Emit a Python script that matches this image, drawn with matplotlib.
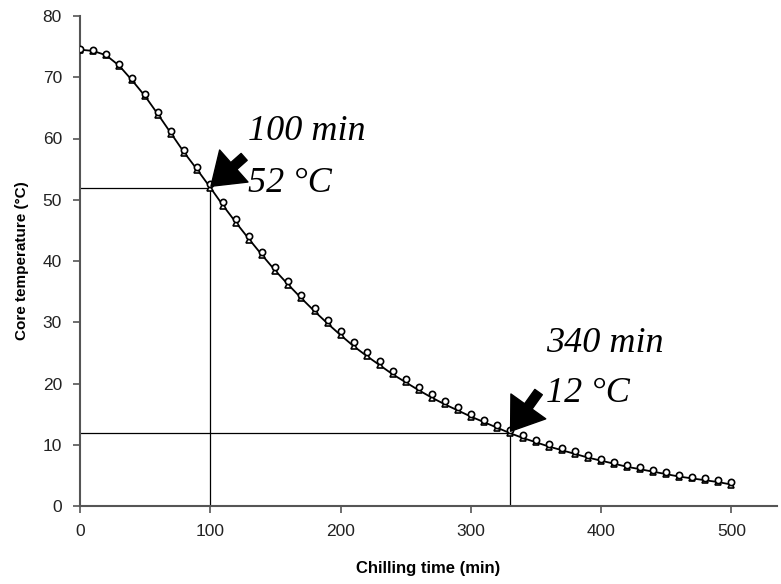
import matplotlib
matplotlib.use("Agg")
import matplotlib.pyplot as plt

# chilling curve (every 10 min)
time_min = [0, 10, 20, 30, 40, 50, 60, 70, 80, 90,
            100, 110, 120, 130, 140, 150, 160, 170, 180, 190,
            200, 210, 220, 230, 240, 250, 260, 270, 280, 290,
            300, 310, 320, 330, 340, 350, 360, 370, 380, 390,
            400, 410, 420, 430, 440, 450, 460, 470, 480, 490, 500]
temp_circle = [74.6, 74.4, 73.8, 72.2, 69.9, 67.3, 64.4, 61.3, 58.2, 55.4,
               52.5, 49.6, 46.8, 44.1, 41.5, 39.0, 36.7, 34.5, 32.4, 30.4,
               28.5, 26.7, 25.1, 23.6, 22.1, 20.8, 19.5, 18.3, 17.2, 16.1,
               15.1, 14.1, 13.3, 12.4, 11.6, 10.8, 10.1, 9.5, 8.9, 8.3,
               7.7, 7.2, 6.7, 6.3, 5.9, 5.5, 5.1, 4.8, 4.5, 4.2, 3.9]
temp_triangle = [74.5, 74.3, 73.6, 71.9, 69.5, 66.9, 63.9, 60.8, 57.7, 54.9,
                 52.0, 49.0, 46.2, 43.5, 40.9, 38.4, 36.1, 33.9, 31.8, 29.8,
                 27.9, 26.1, 24.5, 23.0, 21.5, 20.2, 18.9, 17.7, 16.6, 15.6,
                 14.6, 13.7, 12.8, 11.9, 11.1, 10.4, 9.7, 9.1, 8.5, 7.9,
                 7.4, 6.9, 6.4, 6.0, 5.6, 5.2, 4.8, 4.5, 4.2, 3.9, 3.5]

# marked points
mark_t = [100, 330]
mark_T = [52, 12]
mark_text = [("100 min", "52 °C"), ("340 min", "12 °C")]

fig = plt.figure(figsize=(7.81, 5.84), dpi=100)
ax = fig.add_axes([80 / 781, 78 / 584, 697 / 781, 490 / 584])

# guide lines to the marked points
for t, T in zip(mark_t, mark_T):
    ax.plot([0, t], [T, T], color="black", lw=0.9, zorder=2)
    ax.plot([t, t], [0, T], color="black", lw=0.9, zorder=2)

ax.plot(time_min, temp_triangle, color="black", lw=1.3, marker="^", ms=4.5,
        mfc="white", mec="black", mew=1.2, zorder=3)
ax.plot(time_min, temp_circle, ls="none", marker="o", ms=4.5,
        mfc="white", mec="black", mew=1.2, zorder=4)

# labels + fat arrows
txt_pos = [(129, 59.8, 51.3), (358, 25.1, 17.0)]
arrow_tail = [(126, 57.0), (352, 18.6)]
for (t, T), (l1, l2), (tx, y1, y2), tail in zip(zip(mark_t, mark_T), mark_text, txt_pos, arrow_tail):
    ax.text(tx, y1, l1, fontsize=26, style="italic", family="Liberation Serif", zorder=6)
    ax.text(tx, y2, l2, fontsize=26, style="italic", family="Liberation Serif", zorder=6)
    ax.annotate("", xy=(t + 0.5, T + 0.2), xytext=tail,
                arrowprops=dict(arrowstyle="simple,head_length=1.0,head_width=1.4,tail_width=0.3",
                                color="black", mutation_scale=22, shrinkA=0, shrinkB=0),
                zorder=5)

ax.set_xlim(0, 535)
ax.set_ylim(0, 80)
ax.set_xticks([0, 100, 200, 300, 400, 500])
ax.set_yticks(range(0, 81, 10))
ax.spines["top"].set_visible(False)
ax.spines["right"].set_visible(False)
ax.spines["left"].set_color("#555555")
ax.spines["bottom"].set_color("#555555")
ax.spines["left"].set_linewidth(1.5)
ax.spines["bottom"].set_linewidth(1.5)
ax.tick_params(direction="out", length=5, width=1.2, color="#555555",
               labelsize=12.5, labelcolor="#222222", pad=8)
for lab in ax.get_xticklabels() + ax.get_yticklabels():
    lab.set_family("Liberation Sans")

ax.set_xlabel("Chilling time (min)", fontsize=12, fontweight="bold",
              family="Liberation Sans", labelpad=16)
ax.set_ylabel("Core temperature (°C)", fontsize=11, fontweight="bold",
              family="Liberation Sans", labelpad=10)

fig.savefig("out.png", dpi=100)
